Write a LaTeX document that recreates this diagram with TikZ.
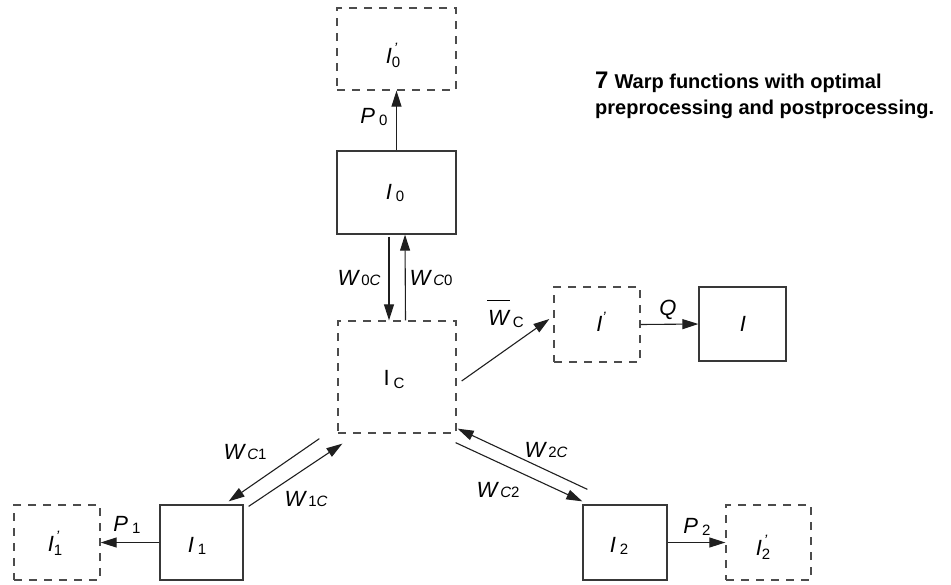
\documentclass[tikz,border=0pt]{standalone}
\usepackage{fontspec}
\setmainfont{Liberation Sans}
\usetikzlibrary{arrows.meta}

\newcommand\mainsz{\fontsize{22}{22}\selectfont}
\newcommand\subsz{\fontsize{15}{15}\selectfont}
% letter with lowered index
\newcommand\ix[2]{{\itshape #1}\hspace{4pt}\raisebox{-2pt}{\subsz #2}}
% letter with prime above and index below
\newcommand\px[2]{{\itshape #1}\rlap{\hspace{2pt}\raisebox{10pt}{\subsz\itshape '}}\raisebox{-4pt}{\subsz #2}}

\begin{document}
\begin{tikzpicture}[x=1pt,y=-1pt,
  solidbox/.style={draw=black!78,line width=1.3pt,minimum width=#1,inner sep=0pt},
  dashbox/.style={draw=black!70,line width=1.3pt,dash pattern=on 8pt off 7pt,inner sep=0pt},
  arr/.style={draw=black!88,line width=1.1pt,-{Triangle[length=16pt,width=10pt]}},
  lbl/.style={font=\mainsz,inner sep=0pt}
]
\useasboundingbox (0,0) rectangle (951,584);

% boxes
\node[dashbox,minimum width=119pt,minimum height=82pt] (I0p) at (396.5,49) {};
\node[solidbox=119pt,minimum height=83pt] (I0) at (396.5,192.5) {};
\node[dashbox,minimum width=118pt,minimum height=112pt] (IC) at (397,377) {};
\node[dashbox,minimum width=86pt,minimum height=75pt] (Ip) at (597,324.5) {};
\node[solidbox=87pt,minimum height=74pt] (I) at (742.5,324) {};
\node[dashbox,minimum width=86pt,minimum height=75pt] (I1p) at (57,542.5) {};
\node[solidbox=83pt,minimum height=75pt] (I1) at (201.5,542.5) {};
\node[solidbox=84pt,minimum height=75pt] (I2) at (625,542.5) {};
\node[dashbox,minimum width=85pt,minimum height=75pt] (I2p) at (768.5,542.5) {};

% box labels
\node[lbl] (tI0p) at (393,55) {\px{I}{0}};
\node[lbl] (tI0) at (395,193) {\ix{I}{0}};
\node[lbl] (tIC) at (394,379) {I\hspace{4pt}\raisebox{-3pt}{\subsz C}};
\node[lbl] (tIp) at (601,322) {{\itshape I}\raisebox{9pt}{\subsz\itshape '}};
\node[lbl] (tI) at (743,324) {\itshape I};
\node[lbl] (tI1p) at (55,543) {\px{I}{1}};
\node[lbl] (tI1) at (197,546) {\ix{I}{1}};
\node[lbl] (tI2) at (619,546) {\ix{I}{2}};
\node[lbl] (tI2p) at (763,547) {\px{I}{2}};

% connectors
\draw[arr] (I0.north) -- (I0p.south);
\draw[arr,shorten <=2pt] ([xshift=-7.5pt]I0.south) -- ([xshift=-8pt]IC.north);
\draw[arr] ([xshift=8.5pt]IC.north) -- ([xshift=8.5pt]I0.south);
\draw[arr] ([shift={(5,4)}]IC.east) -- ([shift={(-4,-5.5)}]Ip.west);
\draw[arr] (Ip.east) -- (I.west);
\draw[arr] ([shift={(-18,5)}]IC.south west) -- ([shift={(-15,-3)}]I1.north east);
\draw[arr] ([shift={(5,2)}]I1.north east) -- ([shift={(5,10)}]IC.south west);
\draw[arr] ([shift={(5,-15)}]I2.north west) -- ([shift={(1,-5)}]IC.south east);
\draw[arr] ([shift={(-1,9)}]IC.south east) -- ([shift={(0,-3)}]I2.north west);
\draw[arr] (I1.west) -- (I1p.east);
\draw[arr] (I2.east) -- (I2p.west);

% connector labels
\node[lbl] (lP0) at (374,117) {\ix{P}{0}};
\node[lbl] (lW0C) at (359,278) {{\itshape W}\hspace{3pt}{\subsz 0\itshape C}};
\node[lbl] (lWC0) at (431,278) {{\itshape W}\hspace{3pt}{\subsz\itshape C\upshape 0}};
\node[lbl] (lWC) at (506,314) {\rlap{\hspace{-1pt}\raisebox{24pt}{\rule{23pt}{1.1pt}}}{\itshape W}\hspace{4pt}\raisebox{-2pt}{\subsz C}};
\node[lbl] (lQ) at (668,310) {\itshape Q};
\node[lbl] (lWC1) at (245,452) {{\itshape W}\hspace{3pt}{\subsz\itshape C\upshape 1}};
\node[lbl] (lW1C) at (306,499) {{\itshape W}\hspace{3pt}{\subsz 1\itshape C}};
\node[lbl] (lP1) at (127,525) {\ix{P}{1}};
\node[lbl] (lW2C) at (546,450) {{\itshape W}\hspace{3pt}{\subsz 2\itshape C}};
\node[lbl] (lWC2) at (498,490) {{\itshape W}\hspace{3pt}{\subsz\itshape C\upshape 2}};
\node[lbl] (lP2) at (697,527) {\ix{P}{2}};

% caption
\node[anchor=base west,align=left,inner sep=0pt,font=\bfseries\fontsize{20}{26}\selectfont] (cap) at (595,114)
  {{\fontsize{24}{24}\selectfont 7}\hspace{6pt}Warp functions with optimal\\preprocessing and postprocessing.};
\end{tikzpicture}
\end{document}
